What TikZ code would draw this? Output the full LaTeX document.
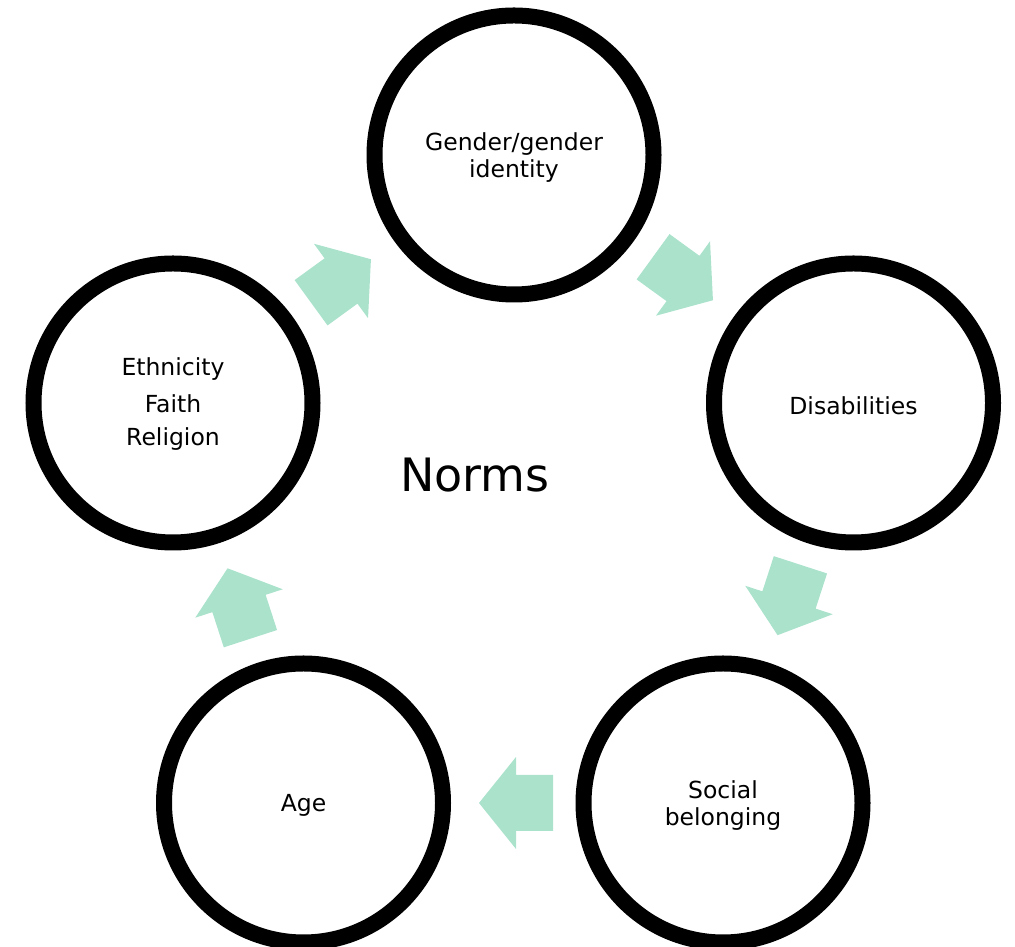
\documentclass[tikz,border=0pt]{standalone}
\usepackage{fontspec}
\setmainfont{DejaVu Sans}
\definecolor{arrowgreen}{RGB}{170,226,204}
\begin{document}
\begin{tikzpicture}[x=1pt,y=1pt,
  ring/.style={circle, draw=black, line width=16pt, minimum size=279pt, inner sep=0pt},
  ringtext/.style={align=center, font=\fontsize{23.5}{26.5}\selectfont, yshift=-2.5pt},
  blockarrow/.pic={\fill[arrowgreen] (-37,-28) -- (0,-28) -- (0,-46) -- (37,0) -- (0,46) -- (0,28) -- (-37,28) -- cycle;}
]
\useasboundingbox (0,0) rectangle (1015,947);
% circles
\node[ring, label={[ringtext]center:Gender/gender\\identity}] (gender) at (514,792) {};
\node[ring, label={[ringtext]center:Disabilities}] (dis) at (853.5,544) {};
\node[ring, label={[ringtext]center:Social\\belonging}] (social) at (723,144) {};
\node[ring, label={[ringtext]center:Age}] (age) at (303.5,144) {};
\node[ring, label={[ringtext, yshift=1pt]center:Ethnicity\\[10pt]Faith\\[7pt]Religion}] (eth) at (173,544) {};
% centre label
\node[font=\fontsize{46}{55}\selectfont] (norms) at (475,472) {Norms};
% block arrows
\pic[rotate=36] (a1) at (341,666) {blockarrow};
\pic[rotate=-36] (a2) at (683,668.5) {blockarrow};
\pic[rotate=-108] (a3) at (789,347) {blockarrow};
\pic[rotate=180] (a4) at (516,144) {blockarrow};
\pic[rotate=108] (a5) at (239,343.5) {blockarrow};
\end{tikzpicture}
\end{document}
